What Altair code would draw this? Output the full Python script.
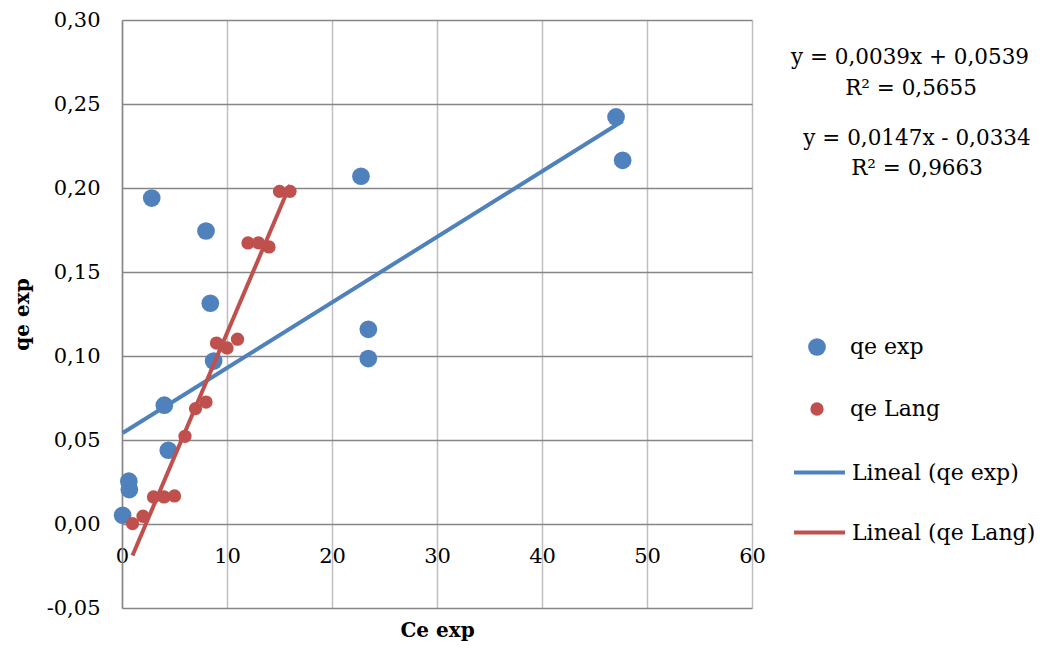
import altair as alt
import pandas as pd

# ---- data ----
exp_x = [0.06, 0.65, 0.70, 2.83, 4.03, 4.41, 8.00, 8.41, 8.73, 22.76, 23.46, 23.46, 47.05, 47.68]
exp_y = [0.0052, 0.0255, 0.0205, 0.1940, 0.0707, 0.0439, 0.1744, 0.1314, 0.0970, 0.2070, 0.1159, 0.0985, 0.2423, 0.2165]

lang_x = [1, 2, 3, 4, 5, 6, 7, 8, 9, 10, 11, 12, 13, 14, 15, 16]
lang_y = [0.0002, 0.0046, 0.0161, 0.0161, 0.0167, 0.0522, 0.0687, 0.0726,
          0.1077, 0.1048, 0.1100, 0.1673, 0.1673, 0.1649, 0.1980, 0.1980]

series = ["qe exp", "qe Lang"]
trends = ["Lineal (qe exp)", "Lineal (qe Lang)"]
colors = ["#4F81BD", "#C0504D"]

# trendline coefficients printed on the chart
slopes = [0.0039, 0.0147]
intercepts = [0.0539, -0.0334]
equations = ["y = 0,0039x + 0,0539", "R² = 0,5655", "y = 0,0147x - 0,0334", "R² = 0,9663"]

x_ticks = [0, 10, 20, 30, 40, 50, 60]
y_ticks = [-0.05, 0.0, 0.05, 0.10, 0.15, 0.20, 0.25, 0.30]

FONT = "DejaVu Serif"

pts = pd.DataFrame({
    "x": exp_x + lang_x,
    "y": exp_y + lang_y,
    "serie": [series[0]] * len(exp_x) + [series[1]] * len(lang_x),
})

def trend_df(xs, k):
    x0, x1 = min(xs), max(xs)
    return pd.DataFrame({
        "x": [x0, x1],
        "y": [slopes[k] * x0 + intercepts[k], slopes[k] * x1 + intercepts[k]],
        "trend": [trends[k]] * 2,
    })

line_exp = trend_df(exp_x, 0)
line_lang = trend_df(lang_x, 1)

x_enc = alt.X("x:Q", scale=alt.Scale(domain=[0, 60], nice=False),
              axis=alt.Axis(values=x_ticks, format="d", offset=-84, domain=False,
                            ticks=False, tickSize=0, labelPadding=21, labelFlush=False,
                            labelFont=FONT, labelFontSize=21, labelColor="#000000",
                            grid=True, gridColor="#BFBFBF", gridWidth=1.5,
                            title="Ce exp", titleFont=FONT, titleFontSize=20,
                            titleFontWeight="bold", titleColor="#000000",
                            titleY=106, titleBaseline="middle"))
y_enc = alt.Y("y:Q", scale=alt.Scale(domain=[-0.05, 0.30], nice=False, zero=False),
              axis=alt.Axis(values=y_ticks,
                            labelExpr="replace(replace(format(datum.value, '.2f'), '.', ','), '\u2212', '-')",
                            domainColor="#868686", domainWidth=1.5, labelFlush=False,
                            ticks=False, tickSize=0, labelPadding=22,
                            labelFont=FONT, labelFontSize=21, labelColor="#000000",
                            grid=True, gridColor="#868686", gridWidth=1.5,
                            title="qe exp", titleFont=FONT, titleFontSize=20,
                            titleFontWeight="bold", titleColor="#000000",
                            titleX=-100, titleY=294, titleAngle=270,
                            titleBaseline="middle", titleAlign="center"))

pt_legend = alt.Legend(orient="none", legendX=684, legendY=316, title=None,
                       labelFont=FONT, labelFontSize=22, labelColor="#000000",
                       labelOffset=22, rowPadding=40, padding=0, symbolType="circle",
                       labelLimit=400)

points = alt.Chart(pts).mark_circle(opacity=1).encode(
    x=x_enc, y=y_enc,
    color=alt.Color("serie:N", scale=alt.Scale(domain=series, range=colors), legend=pt_legend),
    size=alt.Size("serie:N", scale=alt.Scale(domain=series, range=[314, 177]), legend=pt_legend),
)

ln_legend = alt.Legend(orient="none", legendX=670, legendY=425, title=None,
                       labelFont=FONT, labelFontSize=22, labelColor="#000000",
                       labelOffset=5, rowPadding=21, padding=0, labelLimit=400,
                       symbolType="stroke", symbolSize=2601, symbolStrokeWidth=4)

stroke_enc = alt.Stroke("trend:N", scale=alt.Scale(domain=trends, range=colors), legend=ln_legend)

l1 = alt.Chart(line_exp).mark_line(strokeWidth=4).encode(x="x:Q", y="y:Q", stroke=stroke_enc)
l2 = alt.Chart(line_lang).mark_line(strokeWidth=4).encode(x="x:Q", y="y:Q", stroke=stroke_enc)

eq_pos = [(788, 38), (789, 69), (795, 119), (795, 149)]
texts = []
for t, (px, py) in zip(equations, eq_pos):
    texts.append(
        alt.Chart(pd.DataFrame({"t": [t]})).mark_text(
            font=FONT, fontSize=21.5, color="#000000", align="center", baseline="middle"
        ).encode(text="t:N", x=alt.value(px), y=alt.value(py))
    )

chart = alt.layer(points, l1, l2, *texts).properties(
    width=630, height=588,
    autosize=alt.AutoSizeParams(type="none"),
    padding={"left": 122, "top": 20, "right": 288, "bottom": 40},
).configure_view(stroke=None).configure(background="white")

chart.save("out.html", embed_options={"renderer": "svg", "actions": False})
